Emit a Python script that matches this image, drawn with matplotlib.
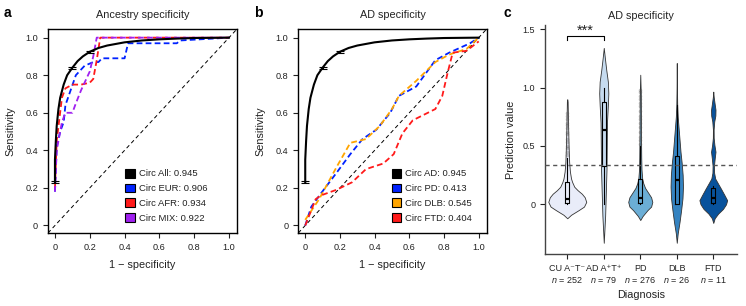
import matplotlib
matplotlib.use('Agg')
import matplotlib.pyplot as plt
from matplotlib.patches import Patch

plt.rcParams['font.family'] = ['Liberation Sans', 'DejaVu Sans']
plt.rcParams['mathtext.fontset'] = 'custom'
plt.rcParams['mathtext.rm'] = 'Liberation Sans'
plt.rcParams['mathtext.it'] = 'Liberation Sans:italic'
plt.rcParams['axes.unicode_minus'] = True

# ---------------- data ----------------
# shared "Circ All" / "Circ AD" ROC curve
roc_all_x = [0, 0, 0.005, 0.01, 0.02, 0.03, 0.05, 0.07, 0.1, 0.13, 0.16, 0.2, 0.25, 0.3, 0.4, 0.5, 0.6, 0.7, 0.8, 0.9, 1.0]
roc_all_y = [0.23, 0.35, 0.45, 0.53, 0.62, 0.68, 0.75, 0.80, 0.84, 0.875, 0.90, 0.925, 0.945, 0.958, 0.975, 0.985, 0.991, 0.995, 0.998, 0.999, 1.0]
err_x = [0, 0.1, 0.2]
err_y = [0.23, 0.84, 0.925]
err_e = [0.006, 0.006, 0.006]

# panel a
eur_x = [0, 0.01, 0.03, 0.05, 0.06, 0.09, 0.12, 0.17, 0.22, 0.25, 0.27, 0.40, 0.42, 0.70, 0.72, 1.0]
eur_y = [0.18, 0.42, 0.50, 0.55, 0.64, 0.72, 0.80, 0.85, 0.87, 0.87, 0.89, 0.89, 0.97, 0.97, 0.985, 1.0]
afr_x = [0, 0.01, 0.04, 0.06, 0.10, 0.15, 0.20, 0.22, 0.24, 0.26, 1.0]
afr_y = [0.20, 0.45, 0.68, 0.73, 0.75, 0.75, 0.76, 0.78, 0.88, 1.0, 1.0]
mix_x = [0, 0.01, 0.04, 0.06, 0.10, 0.12, 0.15, 0.18, 0.20, 0.22, 0.24, 1.0]
mix_y = [0.18, 0.40, 0.55, 0.60, 0.60, 0.65, 0.72, 0.78, 0.82, 0.90, 1.0, 1.0]
labels_a = ['Circ All: 0.945', 'Circ EUR: 0.906', 'Circ AFR: 0.934', 'Circ MIX: 0.922']

# panel b
pd_x = [0, 0.035, 0.09, 0.18, 0.26, 0.33, 0.41, 0.49, 0.54, 0.64, 0.75, 0.83, 0.95, 1.0]
pd_y = [0.0, 0.10, 0.17, 0.28, 0.38, 0.46, 0.51, 0.60, 0.69, 0.74, 0.88, 0.92, 0.97, 1.0]
dlb_x = [0, 0.08, 0.18, 0.26, 0.35, 0.43, 0.50, 0.54, 0.64, 0.75, 0.83, 0.93, 1.0]
dlb_y = [0.03, 0.14, 0.31, 0.44, 0.46, 0.53, 0.62, 0.69, 0.77, 0.87, 0.91, 0.94, 1.0]
ftd_x = [0, 0.06, 0.09, 0.18, 0.27, 0.35, 0.45, 0.51, 0.56, 0.62, 0.75, 0.79, 0.82, 0.85, 0.93, 1.0]
ftd_y = [0.0, 0.14, 0.16, 0.19, 0.23, 0.30, 0.33, 0.38, 0.49, 0.56, 0.62, 0.69, 0.81, 0.92, 0.93, 0.98]
labels_b = ['Circ AD: 0.945', 'Circ PD: 0.413', 'Circ DLB: 0.545', 'Circ FTD: 0.404']

# panel c
groups = ['CU A\u207bT\u207b', 'AD A\u207aT\u207a', 'PD', 'DLB', 'FTD']
group_n = [252, 79, 276, 26, 11]
violin_colors = ['#e9ecf9', '#c6dbef', '#6baed6', '#3483c1', '#08529c']
violin_widths = [1.04, 0.25, 0.66, 0.34, 0.76]
dens_coords = [
    [-0.12, -0.09, -0.05, -0.02, 0.02, 0.06, 0.09, 0.12, 0.15, 0.19, 0.22, 0.28, 0.36, 0.5, 0.7, 0.88, 0.9],
    [-0.33, -0.1, 0.1, 0.3, 0.5, 0.7, 0.85, 0.95, 1.05, 1.15, 1.25, 1.34],
    [-0.135, -0.1, -0.05, -0.02, 0.02, 0.06, 0.1, 0.14, 0.18, 0.22, 0.3, 0.4, 0.6, 0.8, 0.95, 1.11],
    [-0.33, -0.25, -0.15, -0.05, 0.05, 0.15, 0.25, 0.35, 0.45, 0.55, 0.65, 0.75, 0.85, 1.0, 1.21],
    [-0.16, -0.12, -0.08, -0.04, 0.0, 0.035, 0.08, 0.13, 0.18, 0.22, 0.27, 0.33, 0.39, 0.45, 0.51, 0.57, 0.64, 0.71, 0.76, 0.81, 0.86, 0.92, 0.965],
]
dens_vals = [
    [0, 0.2, 0.6, 0.88, 1.0, 0.92, 0.77, 0.55, 0.37, 0.26, 0.2, 0.14, 0.1, 0.07, 0.04, 0.02, 0],
    [0, 0.3, 0.45, 0.6, 0.65, 0.7, 0.9, 1.0, 0.9, 0.55, 0.25, 0],
    [0, 0.2, 0.6, 0.9, 1.0, 0.9, 0.65, 0.4, 0.25, 0.16, 0.1, 0.08, 0.06, 0.05, 0.04, 0],
    [0, 0.15, 0.45, 0.7, 0.92, 1.0, 0.95, 0.8, 0.6, 0.45, 0.3, 0.15, 0.07, 0.03, 0],
    [0, 0.1, 0.35, 0.7, 0.92, 1.0, 0.8, 0.57, 0.33, 0.14, 0.06, 0.05, 0.1, 0.16, 0.08, 0.03, 0.025, 0.07, 0.15, 0.16, 0.1, 0.03, 0],
]
box_q1 = [0.01, 0.33, 0.01, 0.0, 0.01]
box_med = [0.045, 0.64, 0.05, 0.21, 0.05]
box_q3 = [0.19, 0.88, 0.22, 0.41, 0.14]
box_lo = [0.0, 0.0, 0.0, 0.0, 0.0]
box_hi = [0.40, 1.0, 0.5, 0.85, 0.16]
fliers = [
    [0.42, 0.45, 0.48, 0.5, 0.53, 0.56, 0.6, 0.62, 0.65, 0.68, 0.7, 0.73, 0.76, 0.78],
    [],
    [0.52, 0.55, 0.58, 0.62, 0.66, 0.7, 0.73, 0.76, 0.8, 0.84, 0.87, 0.9, 0.93, 0.96, 0.98],
    [],
    [],
]
threshold = 0.34

# ---------------- figure ----------------
fig = plt.figure(figsize=(7.46, 3.06), dpi=100)
W, H = 746, 306
axa = fig.add_axes([48 / W, 1 - 233 / H, 189 / W, 204 / H])
axb = fig.add_axes([298.3 / W, 1 - 233 / H, 188.4 / W, 204 / H])
axc = fig.add_axes([545 / W, 1 - 254 / H, 192 / W, (254 - 25) / H])

TXT = '#222222'
DASH = (0, (3.2, 1.8))
TICK_FS = 6.6
LAB_FS = 7.8


def roc_panel(ax, title, curves, colors, labels, legend_x):
    ax.axline((0, 0), (1, 1), color='black', lw=0.7, ls=(0, (4, 3)), zorder=1)
    ax.plot(roc_all_x, roc_all_y, color='black', lw=1.5, zorder=3)
    ax.errorbar(err_x, err_y, yerr=err_e, fmt='none', ecolor='black', elinewidth=0.8,
                capsize=3, capthick=0.8, zorder=4)
    for (cx, cy), c in zip(curves, colors[1:]):
        ax.plot(cx, cy, color=c, lw=1.3, ls=DASH, zorder=2)
    ax.set_xlim(-0.04, 1.046)
    ax.set_ylim(-0.04, 1.046)
    ticks = [0, 0.2, 0.4, 0.6, 0.8, 1.0]
    tl = ['0', '0.2', '0.4', '0.6', '0.8', '1.0']
    ax.set_xticks(ticks)
    ax.set_xticklabels(tl)
    ax.set_yticks(ticks)
    ax.set_yticklabels(tl)
    ax.tick_params(length=3.6, width=0.8, labelsize=TICK_FS, pad=3.5, colors=TXT)
    for s in ax.spines.values():
        s.set_linewidth(1.0)
    ax.set_title(title, fontsize=LAB_FS, color=TXT, pad=8)
    ax.set_xlabel('1 \u2212 specificity', fontsize=LAB_FS, color=TXT, labelpad=6)
    ax.set_ylabel('Sensitivity', fontsize=LAB_FS, color=TXT, labelpad=7)
    handles = [Patch(facecolor=c, edgecolor='black', lw=0.8) for c in colors]
    ax.legend(handles, labels, loc='lower left', bbox_to_anchor=(legend_x, 0.05),
              frameon=False, fontsize=6.8, handlelength=1.05, handleheight=1.05,
              handletextpad=0.4, labelspacing=0.55, borderpad=0, borderaxespad=0,
              labelcolor=TXT)


roc_panel(axa, 'Ancestry specificity',
          [(eur_x, eur_y), (afr_x, afr_y), (mix_x, mix_y)],
          ['black', '#0022ff', '#ff1a1a', '#a020f0'], labels_a, 0.41)
roc_panel(axb, 'AD specificity',
          [(pd_x, pd_y), (dlb_x, dlb_y), (ftd_x, ftd_y)],
          ['black', '#0022ff', '#ffa500', '#ff1a1a'], labels_b, 0.495)

# ---------------- panel c ----------------
positions = list(range(len(groups)))
vpstats = []
for co, va, med in zip(dens_coords, dens_vals, box_med):
    vpstats.append(dict(coords=co, vals=va, mean=med, median=med, min=co[0], max=co[-1]))
parts = axc.violin(vpstats, positions=positions, widths=violin_widths,
                   showmeans=False, showextrema=False, showmedians=False)
for body, c in zip(parts['bodies'], violin_colors):
    body.set_facecolor(c)
    body.set_edgecolor('#333333')
    body.set_linewidth(0.6)
    body.set_alpha(1)
    body.set_zorder(2)

bxpstats = []
for i in range(len(groups)):
    bxpstats.append(dict(med=box_med[i], q1=box_q1[i], q3=box_q3[i],
                         whislo=box_lo[i], whishi=box_hi[i], fliers=fliers[i]))
axc.bxp(bxpstats, positions=positions, widths=0.11, showcaps=False, patch_artist=False,
        boxprops=dict(color='black', lw=0.8),
        whiskerprops=dict(color='black', lw=0.8),
        medianprops=dict(color='black', lw=1.6),
        flierprops=dict(marker='o', markersize=2.6, markerfacecolor='#555555',
                        markeredgecolor='none', alpha=0.35),
        zorder=3)

axc.axhline(threshold, color='#555555', lw=1.0, ls=(0, (3, 2.5)), zorder=4)

axc.plot([0, 0, 1, 1], [1.405, 1.44, 1.44, 1.405], color='black', lw=0.8)
axc.text(0.5, 1.425, '***', ha='center', va='bottom', fontsize=10.5, color=TXT)

axc.set_xlim(-0.61, 4.65)
axc.set_ylim(-0.426, 1.536)
axc.set_yticks([0, 0.5, 1.0, 1.5])
axc.set_yticklabels(['0', '0.5', '1.0', '1.5'])
axc.set_xticks(positions)
axc.set_xticklabels([f'{g}\n$\\it{{n}}$ = {n}' for g, n in zip(groups, group_n)],
                    linespacing=1.25)
axc.tick_params(length=3.6, width=0.8, labelsize=6.5, pad=3.5, colors=TXT)
for s in ['top', 'right']:
    axc.spines[s].set_visible(False)
for s in ['left', 'bottom']:
    axc.spines[s].set_linewidth(1.0)
    axc.spines[s].set_color('#444444')
axc.set_title('AD specificity', fontsize=LAB_FS, color=TXT, pad=4)
axc.set_xlabel('Diagnosis', fontsize=LAB_FS, color=TXT, labelpad=4)
axc.set_ylabel('Prediction value', fontsize=LAB_FS, color=TXT, labelpad=5)

# panel letters
fig.text(4 / W, 1 - 6 / H, 'a', fontsize=10, fontweight='bold', va='top', ha='left')
fig.text(254 / W, 1 - 6 / H, 'b', fontsize=10, fontweight='bold', va='top', ha='left')
fig.text(503 / W, 1 - 6 / H, 'c', fontsize=10, fontweight='bold', va='top', ha='left')

fig.savefig('out.png', dpi=100)
